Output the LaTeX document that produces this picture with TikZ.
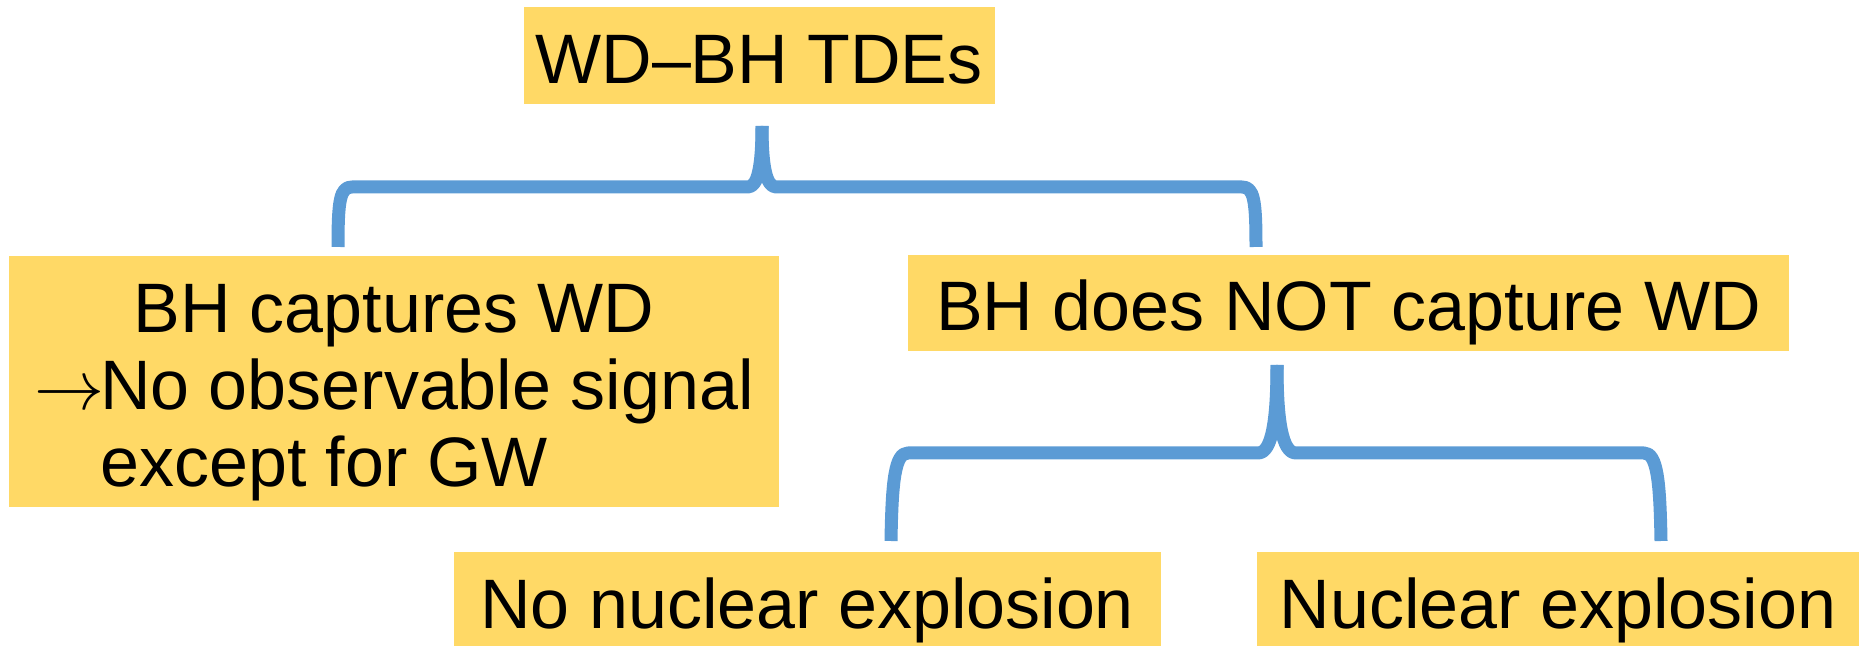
\RequirePackage{fix-cm}
\documentclass[tikz,border=0pt]{standalone}
\usepackage{fontspec}
\setmainfont{Liberation Sans}
\definecolor{boxyellow}{HTML}{FFD966}
\definecolor{braceblue}{HTML}{5B9BD5}
\begin{document}
\begin{tikzpicture}[x=0.5pt,y=-0.5pt,
  box/.style={fill=boxyellow, inner sep=0pt, font=\fontsize{35pt}{38.5pt}\selectfont},
  oneline/.style={box, text height=30pt, text depth=2pt},
  brace/.style={draw=braceblue, line width=6.5pt, line cap=butt, line join=round}]
\useasboundingbox (0,0) rectangle (1859,646);
% boxes
\node[oneline, minimum width=235.5pt, minimum height=48.5pt] (top) at (759,55.5) {WD–BH TDEs};
\node[box, align=center, minimum width=385pt, minimum height=125.5pt] (left) at (394,381.5)
  {\rule{0pt}{36pt}BH captures WD\\$\rightarrow$\kern-2pt No observable signal\\except for GW\rule[-7.5pt]{0pt}{7.5pt}\hspace*{70pt}};
\node[oneline, minimum width=440.5pt, minimum height=48pt] (mid) at (1348.5,303) {BH does NOT capture WD};
\node[oneline, minimum width=353.75pt, minimum height=48pt] (bl) at (807.25,600) {No nuclear explosion};
\node[oneline, minimum width=301pt, minimum height=48pt] (br) at (1558,600) {Nuclear explosion};
% brace 1
\coordinate (b1tip) at (762,126);
\coordinate (b1l) at (338,247);
\coordinate (b1r) at (1256,247);
\draw[brace] (b1l) .. controls (338,200) and (340,187) .. (352,187) -- (748,187)
  .. controls (758,187) and (762,165) .. (b1tip);
\draw[brace] (b1r) .. controls (1256,200) and (1254,187) .. (1242,187) -- (776,187)
  .. controls (766,187) and (762,165) .. (b1tip);
% brace 2
\coordinate (b2tip) at (1277,365);
\coordinate (b2l) at (891,541);
\coordinate (b2r) at (1661,541);
\draw[brace] (b2l) .. controls (892,480) and (895,453) .. (908,453) -- (1258,453)
  .. controls (1272,453) and (1277,420) .. (b2tip);
\draw[brace] (b2r) .. controls (1660,480) and (1657,453) .. (1644,453) -- (1296,453)
  .. controls (1282,453) and (1277,420) .. (b2tip);
\end{tikzpicture}
\end{document}
